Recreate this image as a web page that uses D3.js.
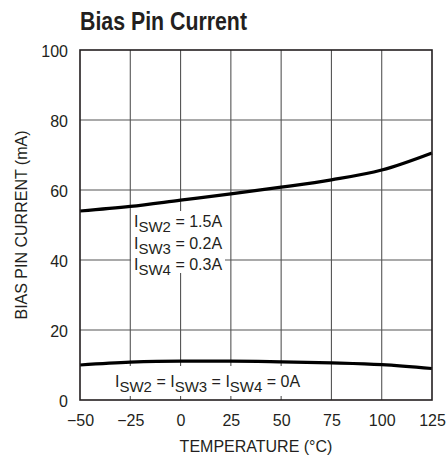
<!DOCTYPE html>
<html>
<head>
<meta charset="utf-8">
<script src="https://cdn.jsdelivr.net/npm/d3@7"></script>
<style>
  html, body { margin: 0; padding: 0; background: #fff; }
  svg { display: block; }
  text { font-family: "Liberation Sans", Arial, Helvetica, sans-serif; fill: #231f20; }
</style>
</head>
<body>
<script>
// Temperature sweep (°C) and bias pin current (mA) for two load conditions
const temperature = [-50, -25, 0, 25, 50, 75, 100, 125];
const biasLoaded = [54.0, 55.3, 57.1, 58.9, 60.8, 62.9, 65.7, 70.6];   // ISW2=1.5A, ISW3=0.2A, ISW4=0.3A
const biasNoLoad = [10.0, 10.8, 11.1, 11.1, 10.9, 10.6, 10.1, 9.0];    // all switches 0A
const xTicks = [-50, -25, 0, 25, 50, 75, 100, 125];
const yTicks = [0, 20, 40, 60, 80, 100];

const W = 447, H = 462;
const m = { left: 80, right: 15, top: 50, bottom: 62 };
const FS = "16px";

const svg = d3.select("body").append("svg").attr("width", W).attr("height", H);

const x = d3.scaleLinear().domain([-50, 125]).range([m.left, W - m.right]);
const y = d3.scaleLinear().domain([0, 100]).range([H - m.bottom, m.top]);

// Title (bold, horizontally condensed)
svg.append("text")
  .attr("transform", "translate(80,30) scale(0.82,1)")
  .style("font-weight", "bold").style("font-size", "26px")
  .text("Bias Pin Current");

// Grid
const grid = svg.append("g").attr("stroke", "#555").attr("stroke-width", 1.1);
grid.selectAll(".gx").data(xTicks.slice(1, -1)).join("line")
  .attr("x1", d => x(d)).attr("x2", d => x(d))
  .attr("y1", y(100)).attr("y2", y(0));
grid.selectAll(".gy").data(yTicks.slice(1, -1)).join("line")
  .attr("x1", x(-50)).attr("x2", x(125))
  .attr("y1", d => y(d)).attr("y2", d => y(d));

// Axes (labels only; frame drawn separately)
const xAxis = d3.axisBottom(x).tickValues(xTicks).tickSize(0).tickPadding(0)
  .tickFormat(d => d < 0 ? "\u2212" + Math.abs(d) : String(d));
const gx = svg.append("g").attr("transform", `translate(0,${y(0)})`).call(xAxis);
gx.select(".domain").remove();
gx.selectAll("text").attr("dy", null).attr("y", 25.5).style("font-size", FS)
  .style("font-family", '"Liberation Sans", Arial, sans-serif').attr("fill", "#231f20");

const yAxis = d3.axisLeft(y).tickValues(yTicks).tickSize(0).tickPadding(0);
const gy = svg.append("g").attr("transform", `translate(${x(-50)},0)`).call(yAxis);
gy.select(".domain").remove();
gy.selectAll("text").attr("dy", null).attr("x", -12).attr("y", 6).style("font-size", FS)
  .style("font-family", '"Liberation Sans", Arial, sans-serif').attr("fill", "#231f20");

// Axis titles
svg.append("text")
  .attr("x", (x(-50) + x(125)) / 2).attr("y", 452)
  .attr("text-anchor", "middle").style("font-size", FS)
  .text("TEMPERATURE (\u00B0C)");
svg.append("text")
  .attr("transform", `translate(27,${(y(0) + y(100)) / 2}) rotate(-90)`)
  .attr("text-anchor", "middle").style("font-size", FS)
  .text("BIAS PIN CURRENT (mA)");

// Label backgrounds
svg.append("rect").attr("x", 131).attr("y", 211).attr("width", 94).attr("height", 62).attr("fill", "#fff");
svg.append("rect").attr("x", 112).attr("y", 366).attr("width", 190).attr("height", 30).attr("fill", "#fff");

// Curves
const line = d3.line().x((d, i) => x(temperature[i])).y(d => y(d)).curve(d3.curveMonotoneX);
[biasLoaded, biasNoLoad].forEach(s => {
  svg.append("path").datum(s).attr("d", line)
    .attr("fill", "none").attr("stroke", "#000").attr("stroke-width", 3.2);
});

// Frame
svg.append("rect")
  .attr("x", x(-50)).attr("y", y(100))
  .attr("width", x(125) - x(-50)).attr("height", y(0) - y(100))
  .attr("fill", "none").attr("stroke", "#231f20").attr("stroke-width", 1.6);

// Condition labels with subscripts
function subLabel(parts, px, py) {
  const t = svg.append("text").attr("x", px).attr("y", py).style("font-size", FS);
  let shift = 0;
  parts.forEach(p => {
    const target = p.sub ? 5 : 0;
    const ts = t.append("tspan").attr("dy", target - shift).text(p.sub || p.t);
    if (p.sub) ts.style("font-size", "15px");
    shift = target;
  });
}
subLabel([{ t: "I" }, { sub: "SW2" }, { t: " = 1.5A" }], 134, 227);
subLabel([{ t: "I" }, { sub: "SW3" }, { t: " = 0.2A" }], 134, 248.5);
subLabel([{ t: "I" }, { sub: "SW4" }, { t: " = 0.3A" }], 134, 270);
subLabel([{ t: "I" }, { sub: "SW2" }, { t: " = I" }, { sub: "SW3" }, { t: " = I" }, { sub: "SW4" }, { t: " = 0A" }], 115, 387);
</script>
</body>
</html>
